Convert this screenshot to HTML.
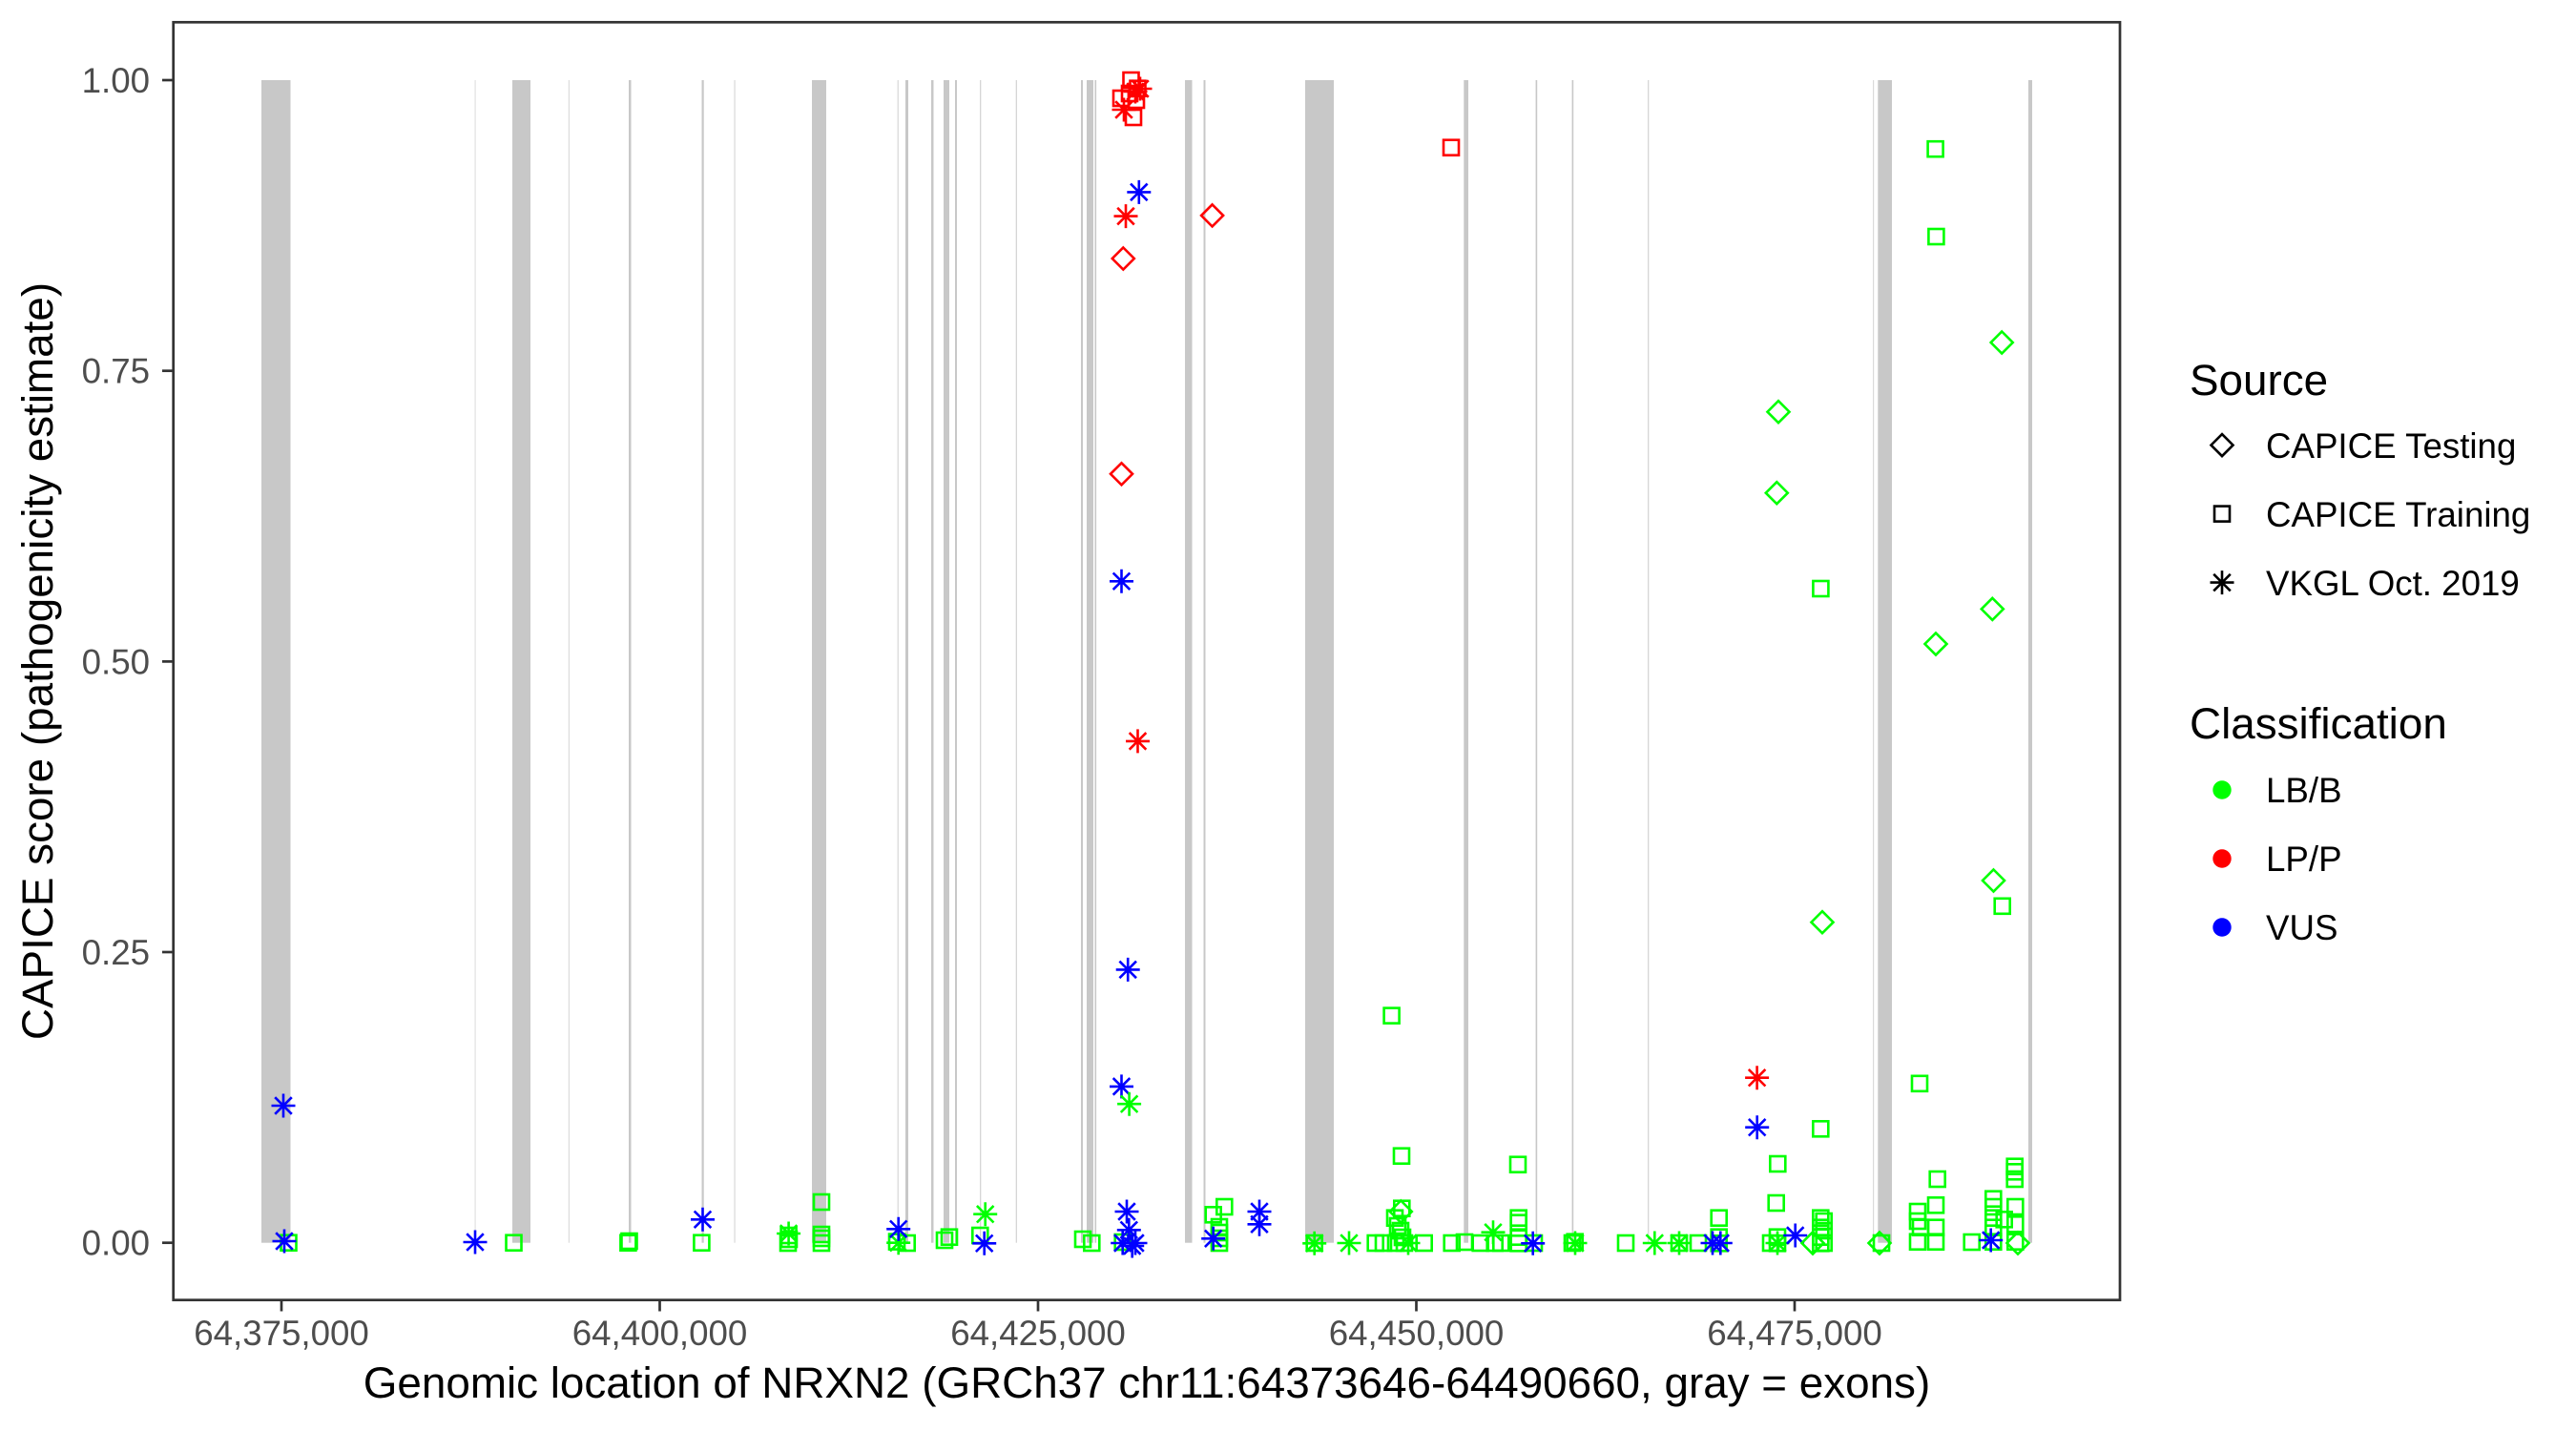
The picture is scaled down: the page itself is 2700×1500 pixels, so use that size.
<!DOCTYPE html>
<html><head><meta charset="utf-8"><style>
html,body{margin:0;padding:0;background:#fff;}
svg{display:block;}
text{font-family:"Liberation Sans",Arial,sans-serif;}
</style></head><body>
<svg width="2700" height="1500" viewBox="0 0 2700 1500" xmlns="http://www.w3.org/2000/svg">
<defs>
<g id="sq"><rect x="-8" y="-8" width="16" height="16" fill="none"/></g>
<g id="dia"><path d="M0,-11.5 L11.5,0 L0,11.5 L-11.5,0 Z" fill="none"/></g>
<g id="ast"><path d="M0,-12.5 V12.5 M-12.5,0 H12.5 M-8.8,-8.8 L8.8,8.8 M-8.8,8.8 L8.8,-8.8" fill="none"/></g>
</defs>
<rect x="0" y="0" width="2700" height="1500" fill="#fff"/>

<!-- exons -->
<g fill="#c8c8c8">
<rect x="274" y="84" width="30.5" height="1218.7"/>
<rect x="497.5" y="84" width="1.2" height="1218.7" fill="#e0e0e0"/>
<rect x="537" y="84" width="19" height="1218.7"/>
<rect x="595.8" y="84" width="1.2" height="1218.7" fill="#dcdcdc"/>
<rect x="659" y="84" width="2.5" height="1218.7"/>
<rect x="735.5" y="84" width="2.2" height="1218.7"/>
<rect x="769.4" y="84" width="1.3" height="1218.7" fill="#dcdcdc"/>
<rect x="851" y="84" width="15" height="1218.7"/>
<rect x="940.6" y="84" width="1.3" height="1218.7" fill="#dadada"/>
<rect x="949" y="84" width="3" height="1218.7"/>
<rect x="976" y="84" width="2.5" height="1218.7"/>
<rect x="989" y="84" width="6" height="1218.7"/>
<rect x="1001" y="84" width="2" height="1218.7"/>
<rect x="1027" y="84" width="1.3" height="1218.7" fill="#d6d6d6"/>
<rect x="1064.7" y="84" width="1.3" height="1218.7" fill="#d6d6d6"/>
<rect x="1133" y="84" width="2" height="1218.7"/>
<rect x="1139" y="84" width="7" height="1218.7"/>
<rect x="1147.5" y="84" width="1.6" height="1218.7"/>
<rect x="1242" y="84" width="7.5" height="1218.7"/>
<rect x="1261.5" y="84" width="2" height="1218.7"/>
<rect x="1368" y="84" width="30" height="1218.7"/>
<rect x="1534.3" y="84" width="4.7" height="1218.7"/>
<rect x="1609.6" y="84" width="1.6" height="1218.7"/>
<rect x="1647.6" y="84" width="1.6" height="1218.7"/>
<rect x="1727" y="84" width="1.3" height="1218.7" fill="#d6d6d6"/>
<rect x="1963" y="84" width="1.2" height="1218.7" fill="#dadada"/>
<rect x="1968.3" y="84" width="14.7" height="1218.7"/>
<rect x="2126" y="84" width="4" height="1218.7"/>
</g>

<!-- points -->
<g stroke-width="2.6" stroke-linecap="butt">
<!-- left -->
<use href="#ast" x="297" y="1159" stroke="#0000ff"/>
<use href="#sq" x="302.5" y="1302.7" stroke="#00ff00"/>
<use href="#ast" x="298" y="1301" stroke="#0000ff"/>
<use href="#ast" x="498" y="1302" stroke="#0000ff"/>
<use href="#sq" x="538.5" y="1302.7" stroke="#00ff00"/>
<use href="#sq" x="658.4" y="1302.7" stroke="#00ff00"/>
<use href="#sq" x="659.5" y="1301" stroke="#00ff00"/>
<use href="#ast" x="736.5" y="1278.3" stroke="#0000ff"/>
<use href="#sq" x="735.4" y="1302.7" stroke="#00ff00"/>
<use href="#ast" x="826.6" y="1293" stroke="#00ff00"/>
<use href="#sq" x="826.6" y="1295" stroke="#00ff00"/>
<use href="#sq" x="827" y="1299" stroke="#00ff00"/>
<use href="#sq" x="826" y="1303" stroke="#00ff00"/>
<use href="#sq" x="861" y="1260" stroke="#00ff00"/>
<use href="#sq" x="861" y="1294" stroke="#00ff00"/>
<use href="#sq" x="861" y="1298" stroke="#00ff00"/>
<use href="#sq" x="861" y="1303" stroke="#00ff00"/>
<!-- zoom8 region -->
<use href="#sq" x="940" y="1301.6" stroke="#00ff00"/>
<use href="#sq" x="950.7" y="1303" stroke="#00ff00"/>
<use href="#ast" x="941.7" y="1302.7" stroke="#00ff00"/>
<use href="#ast" x="941.7" y="1288.3" stroke="#0000ff"/>
<use href="#sq" x="990" y="1300" stroke="#00ff00"/>
<use href="#sq" x="995" y="1296.7" stroke="#00ff00"/>
<use href="#ast" x="1032.7" y="1272.7" stroke="#00ff00"/>
<use href="#sq" x="1027.3" y="1295" stroke="#00ff00"/>
<use href="#ast" x="1031.7" y="1303.3" stroke="#0000ff"/>
<use href="#sq" x="1135" y="1299" stroke="#00ff00"/>
<use href="#sq" x="1144.3" y="1303" stroke="#00ff00"/>
<use href="#sq" x="1176.7" y="1302" stroke="#00ff00"/>
<use href="#ast" x="1181" y="1270" stroke="#0000ff"/>
<use href="#ast" x="1183.3" y="1289.3" stroke="#0000ff"/>
<use href="#ast" x="1176.7" y="1303" stroke="#0000ff"/>
<use href="#ast" x="1190" y="1303" stroke="#0000ff"/>
<use href="#ast" x="1186.7" y="1306" stroke="#0000ff"/>
<use href="#sq" x="1283.3" y="1265" stroke="#00ff00"/>
<use href="#sq" x="1271.7" y="1273.3" stroke="#00ff00"/>
<use href="#sq" x="1278" y="1286" stroke="#00ff00"/>
<use href="#sq" x="1278" y="1292" stroke="#00ff00"/>
<use href="#sq" x="1278" y="1298" stroke="#00ff00"/>
<use href="#sq" x="1278" y="1303" stroke="#00ff00"/>
<use href="#ast" x="1271.7" y="1298.3" stroke="#0000ff"/>
<use href="#ast" x="1320" y="1270" stroke="#0000ff"/>
<use href="#ast" x="1320" y="1283.3" stroke="#0000ff"/>
<use href="#sq" x="1377.7" y="1303" stroke="#00ff00"/>
<use href="#ast" x="1377.7" y="1303.3" stroke="#00ff00"/>
<!-- zoom9 region -->
<use href="#ast" x="1414" y="1303" stroke="#00ff00"/>
<use href="#sq" x="1441.7" y="1303" stroke="#00ff00"/>
<use href="#sq" x="1450" y="1303" stroke="#00ff00"/>
<use href="#sq" x="1469" y="1211.7" stroke="#00ff00"/>
<use href="#sq" x="1469.3" y="1266.7" stroke="#00ff00"/>
<use href="#dia" x="1468.3" y="1270" stroke="#00ff00"/>
<use href="#sq" x="1462" y="1276.7" stroke="#00ff00"/>
<use href="#sq" x="1465" y="1285" stroke="#00ff00"/>
<use href="#sq" x="1468" y="1290" stroke="#00ff00"/>
<use href="#sq" x="1470" y="1297" stroke="#00ff00"/>
<use href="#sq" x="1463" y="1303" stroke="#00ff00"/>
<use href="#sq" x="1472" y="1303" stroke="#00ff00"/>
<use href="#ast" x="1476" y="1303" stroke="#00ff00"/>
<use href="#sq" x="1492.7" y="1303" stroke="#00ff00"/>
<use href="#sq" x="1521.7" y="1303" stroke="#00ff00"/>
<use href="#sq" x="1535" y="1302" stroke="#00ff00"/>
<use href="#sq" x="1551.7" y="1303" stroke="#00ff00"/>
<use href="#sq" x="1566.7" y="1303" stroke="#00ff00"/>
<use href="#sq" x="1573.3" y="1303" stroke="#00ff00"/>
<use href="#ast" x="1565" y="1291.7" stroke="#00ff00"/>
<use href="#sq" x="1591" y="1220.7" stroke="#00ff00"/>
<use href="#sq" x="1591.7" y="1276.7" stroke="#00ff00"/>
<use href="#sq" x="1591.7" y="1281.7" stroke="#00ff00"/>
<use href="#sq" x="1591.7" y="1296.7" stroke="#00ff00"/>
<use href="#sq" x="1591.7" y="1303.3" stroke="#00ff00"/>
<use href="#sq" x="1608" y="1303" stroke="#00ff00"/>
<use href="#ast" x="1606.7" y="1303.3" stroke="#0000ff"/>
<use href="#sq" x="1650.7" y="1301.7" stroke="#00ff00"/>
<use href="#sq" x="1648" y="1303" stroke="#00ff00"/>
<use href="#ast" x="1651" y="1303" stroke="#00ff00"/>
<use href="#sq" x="1704" y="1303" stroke="#00ff00"/>
<use href="#ast" x="1734.3" y="1303" stroke="#00ff00"/>
<use href="#sq" x="1760" y="1303" stroke="#00ff00"/>
<use href="#ast" x="1760" y="1303" stroke="#00ff00"/>
<use href="#sq" x="1780" y="1303" stroke="#00ff00"/>
<use href="#sq" x="1801.7" y="1276.7" stroke="#00ff00"/>
<use href="#sq" x="1801.7" y="1296.7" stroke="#00ff00"/>
<use href="#sq" x="1801.7" y="1303.3" stroke="#00ff00"/>
<use href="#ast" x="1795" y="1303" stroke="#0000ff"/>
<use href="#ast" x="1803.3" y="1303" stroke="#0000ff"/>
<use href="#sq" x="1863.3" y="1220" stroke="#00ff00"/>
<use href="#sq" x="1861.7" y="1261" stroke="#00ff00"/>
<use href="#sq" x="1863" y="1296.7" stroke="#00ff00"/>
<use href="#sq" x="1863" y="1303.3" stroke="#00ff00"/>
<use href="#sq" x="1856" y="1303" stroke="#00ff00"/>
<use href="#ast" x="1863" y="1303" stroke="#00ff00"/>
<use href="#ast" x="1881.7" y="1295" stroke="#0000ff"/>
<use href="#ast" x="1841.7" y="1181.7" stroke="#0000ff"/>
<use href="#sq" x="1908.3" y="1183.3" stroke="#00ff00"/>
<use href="#sq" x="1908.3" y="1276.7" stroke="#00ff00"/>
<use href="#sq" x="1908.3" y="1286.7" stroke="#00ff00"/>
<use href="#sq" x="1908.3" y="1296.7" stroke="#00ff00"/>
<use href="#sq" x="1908.3" y="1303.3" stroke="#00ff00"/>
<use href="#dia" x="1900" y="1303" stroke="#00ff00"/>
<!-- zoom10 region -->
<use href="#sq" x="1911.7" y="1280" stroke="#00ff00"/>
<use href="#sq" x="1911.7" y="1290" stroke="#00ff00"/>
<use href="#sq" x="1911.7" y="1303" stroke="#00ff00"/>
<use href="#dia" x="1970" y="1303" stroke="#00ff00"/>
<use href="#sq" x="1972" y="1303" stroke="#00ff00"/>
<use href="#sq" x="2010" y="1270" stroke="#00ff00"/>
<use href="#sq" x="2010" y="1280" stroke="#00ff00"/>
<use href="#sq" x="2013" y="1286.7" stroke="#00ff00"/>
<use href="#sq" x="2010" y="1301.7" stroke="#00ff00"/>
<use href="#sq" x="2030.7" y="1236" stroke="#00ff00"/>
<use href="#sq" x="2029" y="1263.3" stroke="#00ff00"/>
<use href="#sq" x="2029" y="1286.7" stroke="#00ff00"/>
<use href="#sq" x="2029" y="1301.7" stroke="#00ff00"/>
<use href="#sq" x="2066.7" y="1302" stroke="#00ff00"/>
<use href="#sq" x="2089.3" y="1256.7" stroke="#00ff00"/>
<use href="#sq" x="2089.3" y="1265" stroke="#00ff00"/>
<use href="#sq" x="2089.3" y="1276.7" stroke="#00ff00"/>
<use href="#sq" x="2089.3" y="1286.7" stroke="#00ff00"/>
<use href="#sq" x="2089.3" y="1301.7" stroke="#00ff00"/>
<use href="#sq" x="2100.7" y="1278.3" stroke="#00ff00"/>
<use href="#sq" x="2111.7" y="1222.7" stroke="#00ff00"/>
<use href="#sq" x="2111.7" y="1228.3" stroke="#00ff00"/>
<use href="#sq" x="2111.7" y="1236" stroke="#00ff00"/>
<use href="#sq" x="2112.3" y="1265" stroke="#00ff00"/>
<use href="#sq" x="2112.3" y="1283.3" stroke="#00ff00"/>
<use href="#sq" x="2112.3" y="1301.7" stroke="#00ff00"/>
<use href="#dia" x="2115" y="1303" stroke="#00ff00"/>
<use href="#ast" x="2086.7" y="1300" stroke="#0000ff"/>
<!-- upper middle -->
<use href="#sq" x="1458.6" y="1064.6" stroke="#00ff00"/>
<use href="#ast" x="1175.5" y="1138.9" stroke="#0000ff"/>
<use href="#ast" x="1183.6" y="1157.2" stroke="#00ff00"/>
<use href="#ast" x="1182.2" y="1016.4" stroke="#0000ff"/>
<use href="#ast" x="1192.5" y="776.9" stroke="#ff0000"/>
<use href="#ast" x="1175.5" y="609.3" stroke="#0000ff"/>
<use href="#dia" x="1175.5" y="496.8" stroke="#ff0000"/>
<use href="#dia" x="1177.3" y="271" stroke="#ff0000"/>
<use href="#ast" x="1180" y="226.6" stroke="#ff0000"/>
<use href="#dia" x="1270.6" y="225.9" stroke="#ff0000"/>
<use href="#ast" x="1193.8" y="201.4" stroke="#0000ff"/>
<use href="#sq" x="1521" y="154.7" stroke="#ff0000"/>
<use href="#sq" x="1185.5" y="84" stroke="#ff0000"/>
<use href="#sq" x="1184" y="98" stroke="#ff0000"/>
<use href="#sq" x="1175" y="103" stroke="#ff0000"/>
<use href="#sq" x="1191" y="105" stroke="#ff0000"/>
<use href="#sq" x="1188" y="123" stroke="#ff0000"/>
<use href="#sq" x="1192.5" y="92.7" stroke="#ff0000"/>
<use href="#ast" x="1178" y="115" stroke="#ff0000"/>
<use href="#ast" x="1195" y="93" stroke="#ff0000"/>
<use href="#ast" x="1190" y="96" stroke="#ff0000"/>
<!-- upper right -->
<use href="#sq" x="2028.6" y="156.2" stroke="#00ff00"/>
<use href="#sq" x="2029.4" y="248" stroke="#00ff00"/>
<use href="#dia" x="2098.2" y="359" stroke="#00ff00"/>
<use href="#dia" x="1864" y="431.7" stroke="#00ff00"/>
<use href="#dia" x="1862.3" y="516.7" stroke="#00ff00"/>
<use href="#sq" x="1908.4" y="617" stroke="#00ff00"/>
<use href="#dia" x="2088.3" y="638.4" stroke="#00ff00"/>
<use href="#dia" x="2029" y="675" stroke="#00ff00"/>
<use href="#dia" x="2089.5" y="923" stroke="#00ff00"/>
<use href="#sq" x="2098.7" y="949.8" stroke="#00ff00"/>
<use href="#dia" x="1910" y="966.7" stroke="#00ff00"/>
<use href="#ast" x="1841.6" y="1129.7" stroke="#ff0000"/>
<use href="#sq" x="2012" y="1135.8" stroke="#00ff00"/>
</g>

<!-- panel border -->
<rect x="181.7" y="23.3" width="2040.3" height="1339.4" fill="none" stroke="#333333" stroke-width="2.7"/>

<!-- y ticks -->
<g stroke="#333333" stroke-width="2.7">
<line x1="170" y1="84" x2="181.7" y2="84"/>
<line x1="170" y1="388.7" x2="181.7" y2="388.7"/>
<line x1="170" y1="693.4" x2="181.7" y2="693.4"/>
<line x1="170" y1="998" x2="181.7" y2="998"/>
<line x1="170" y1="1302.7" x2="181.7" y2="1302.7"/>
<line x1="295" y1="1362.7" x2="295" y2="1374.5"/>
<line x1="691.5" y1="1362.7" x2="691.5" y2="1374.5"/>
<line x1="1088" y1="1362.7" x2="1088" y2="1374.5"/>
<line x1="1484.5" y1="1362.7" x2="1484.5" y2="1374.5"/>
<line x1="1881" y1="1362.7" x2="1881" y2="1374.5"/>
</g>
<g font-size="36.7" fill="#4d4d4d" text-anchor="end">
<text x="157" y="97">1.00</text>
<text x="157" y="401.7">0.75</text>
<text x="157" y="706.4">0.50</text>
<text x="157" y="1011">0.25</text>
<text x="157" y="1315.7">0.00</text>
</g>
<g font-size="36.7" fill="#4d4d4d" text-anchor="middle">
<text x="295" y="1410">64,375,000</text>
<text x="691.5" y="1410">64,400,000</text>
<text x="1088" y="1410">64,425,000</text>
<text x="1484.5" y="1410">64,450,000</text>
<text x="1881" y="1410">64,475,000</text>
</g>

<!-- axis titles -->
<text x="1202" y="1465" font-size="45.8" fill="#000" text-anchor="middle">Genomic location of NRXN2 (GRCh37 chr11:64373646-64490660, gray = exons)</text>
<text transform="translate(55,693) rotate(-90)" font-size="45.8" fill="#000" text-anchor="middle">CAPICE score (pathogenicity estimate)</text>

<!-- legend -->
<text x="2295" y="414" font-size="45.8" fill="#000">Source</text>
<g stroke="#000" stroke-width="2.6">
<use href="#dia" x="2329" y="466.6"/>
<use href="#sq" x="2329" y="538.6"/>
<use href="#ast" x="2329" y="610.6"/>
</g>
<g font-size="36.7" fill="#000">
<text x="2375" y="479.8">CAPICE Testing</text>
<text x="2375" y="551.8">CAPICE Training</text>
<text x="2375" y="623.8">VKGL Oct. 2019</text>
</g>
<text x="2295" y="774" font-size="45.8" fill="#000">Classification</text>
<circle cx="2329" cy="828" r="9.7" fill="#00ff00"/>
<circle cx="2329" cy="900" r="9.7" fill="#ff0000"/>
<circle cx="2329" cy="972" r="9.7" fill="#0000ff"/>
<g font-size="36.7" fill="#000">
<text x="2375" y="841.2">LB/B</text>
<text x="2375" y="913.2">LP/P</text>
<text x="2375" y="985.2">VUS</text>
</g>
</svg>
</body></html>
